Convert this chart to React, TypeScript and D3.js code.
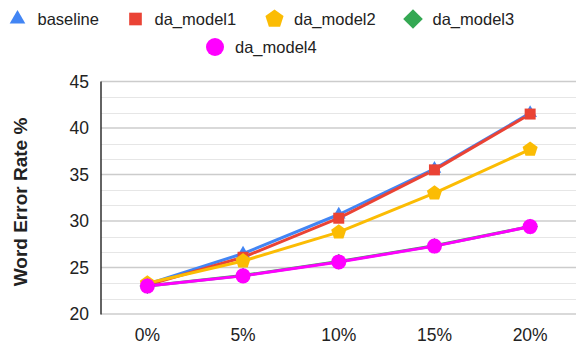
import React from "react";
import * as d3 from "d3";

const categories = ["0%", "5%", "10%", "15%", "20%"];
const baseline = [23.2, 26.5, 30.7, 35.6, 41.6];
const daModel1 = [23.1, 26.1, 30.3, 35.5, 41.5];
const daModel2 = [23.3, 25.7, 28.8, 33.0, 37.7];
const daModel3 = [23.0, 24.14, 25.64, 27.34, 29.4];
const daModel4 = [23.0, 24.1, 25.6, 27.3, 29.4];
const seriesNames = ["baseline", "da_model1", "da_model2", "da_model3", "da_model4"];
const yTicks = [20, 25, 30, 35, 40, 45];

const WIDTH = 576;
const HEIGHT = 345;
const FONT = "Arial, 'Liberation Sans', sans-serif";

type Shape = "triangle" | "square" | "pentagon" | "diamond" | "circle";

const series: { name: string; values: number[]; color: string; shape: Shape }[] = [
  { name: seriesNames[0], values: baseline, color: "#4285F4", shape: "triangle" },
  { name: seriesNames[1], values: daModel1, color: "#EA4335", shape: "square" },
  { name: seriesNames[2], values: daModel2, color: "#FBBC04", shape: "pentagon" },
  { name: seriesNames[3], values: daModel3, color: "#34A853", shape: "diamond" },
  { name: seriesNames[4], values: daModel4, color: "#FF00FF", shape: "circle" },
];

// regular pentagon symbol, point up
const symbolPentagon: d3.SymbolType = {
  draw(context, size) {
    const r = Math.sqrt(size / 2.3776);
    for (let i = 0; i < 5; i++) {
      const a = -Math.PI / 2 + (i * 2 * Math.PI) / 5;
      const px = r * Math.cos(a);
      const py = r * Math.sin(a);
      if (i === 0) context.moveTo(px, py);
      else context.lineTo(px, py);
    }
    context.closePath();
  },
};

// square rotated by 45 degrees
const symbolRotSquare: d3.SymbolType = {
  draw(context, size) {
    const h = Math.sqrt(size / 2);
    context.moveTo(0, -h);
    context.lineTo(h, 0);
    context.lineTo(0, h);
    context.lineTo(-h, 0);
    context.closePath();
  },
};

function markerPath(shape: Shape, scale = 1): string {
  const k = scale * scale;
  switch (shape) {
    case "triangle":
      return d3.symbol(d3.symbolTriangle, 80 * k)() as string;
    case "square":
      return d3.symbol(d3.symbolSquare, 121 * k)() as string;
    case "pentagon":
      return d3.symbol(symbolPentagon, 150 * k)() as string;
    case "diamond":
      return d3.symbol(symbolRotSquare, 123 * k)() as string;
    case "circle":
    default:
      return d3.symbol(d3.symbolCircle, 177 * k)() as string;
  }
}

export default function App() {
  const x = d3.scaleBand<string>().domain(categories).range([99.5, 578]);
  const y = d3.scaleLinear().domain([20, 45]).range([314, 81.5]);

  const minorTicks: number[] = [];
  for (let v = 20; v < 45; v += 5) {
    minorTicks.push(v + 5 / 3, v + 10 / 3);
  }

  const cx = (c: string) => (x(c) as number) + x.bandwidth() / 2;
  const line = d3
    .line<number>()
    .x((_, i) => cx(categories[i]))
    .y((d) => y(d));

  const legendItems = [
    { s: series[0], mx: 17.5, tx: 37.5, y: 19, k: 1.15 },
    { s: series[1], mx: 135.5, tx: 154.5, y: 19, k: 1.15 },
    { s: series[2], mx: 274.5, tx: 294, y: 19, k: 1.2 },
    { s: series[3], mx: 413, tx: 432.5, y: 19, k: 1.25 },
    { s: series[4], mx: 215, tx: 235, y: 47, k: 1.2 },
  ];

  return (
    <svg
      width={WIDTH}
      height={HEIGHT}
      style={{ position: "absolute", left: 0, top: 0, background: "#fff" }}
      fontFamily={FONT}
    >
      {/* legend */}
      {legendItems.map((l) => (
        <g key={l.s.name}>
          <path
            d={markerPath(l.s.shape, l.k)}
            transform={`translate(${l.mx},${l.y})`}
            fill={l.s.color}
          />
          <text x={l.tx} y={l.y} dy="0.35em" fontSize={16.5} fill="#222">
            {l.s.name}
          </text>
        </g>
      ))}

      {/* gridlines */}
      {minorTicks.map((v) => (
        <line
          key={`m${v}`}
          x1={101}
          x2={WIDTH}
          y1={Math.round(y(v)) + 0.5}
          y2={Math.round(y(v)) + 0.5}
          stroke="#e6e6e6"
          strokeWidth={1}
        />
      ))}
      {yTicks.map((v) => (
        <line
          key={`g${v}`}
          x1={101}
          x2={WIDTH}
          y1={y(v)}
          y2={y(v)}
          stroke="#cccccc"
          strokeWidth={1.3}
        />
      ))}

      {/* left axis */}
      <line x1={101} x2={101} y1={y(45)} y2={y(20) + 0.5} stroke="#222" strokeWidth={1.4} />

      {/* y tick labels */}
      {yTicks.map((v) => (
        <text
          key={`t${v}`}
          x={89}
          y={y(v)}
          dy="0.35em"
          textAnchor="end"
          fontSize={17.5}
          fill="#222"
        >
          {v}
        </text>
      ))}

      {/* x tick labels */}
      {categories.map((c) => (
        <text
          key={c}
          x={cx(c)}
          y={341}
          textAnchor="middle"
          fontSize={17.5}
          fill="#222"
        >
          {c}
        </text>
      ))}

      {/* y axis title */}
      <text
        transform={`translate(26.5,202) rotate(-90)`}
        textAnchor="middle"
        fontSize={19}
        fontWeight="bold"
        fill="#222"
      >
        Word Error Rate %
      </text>

      {/* series lines */}
      {series.map((s) => (
        <path
          key={`l${s.name}`}
          d={line(s.values) as string}
          fill="none"
          stroke={s.color}
          strokeWidth={3}
          strokeLinejoin="round"
        />
      ))}
      {/* markers, drawn per series in order */}
      {series.map((s) => (
        <g key={`p${s.name}`}>
          {s.values.map((v, i) => (
            <path
              key={i}
              d={markerPath(s.shape)}
              transform={`translate(${cx(categories[i])},${y(v)})`}
              fill={s.color}
            />
          ))}
        </g>
      ))}
    </svg>
  );
}
